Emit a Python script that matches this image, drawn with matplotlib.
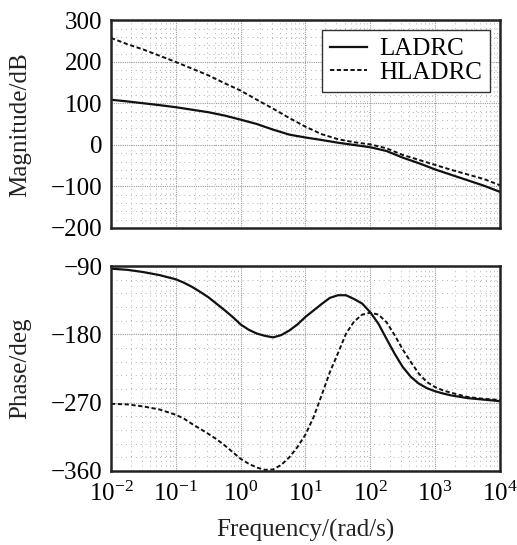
import numpy as np
import matplotlib
matplotlib.use("Agg")
import matplotlib.pyplot as plt
from matplotlib.ticker import FixedLocator, MultipleLocator, LogLocator, NullFormatter

plt.rcParams['font.family'] = ['Liberation Serif', 'DejaVu Serif']
plt.rcParams['mathtext.fontset'] = 'custom'
plt.rcParams['mathtext.rm'] = 'Liberation Serif'
plt.rcParams['mathtext.it'] = 'Liberation Serif:italic'

# log10 of frequency (rad/s) for the magnitude curves, quarter decades
log_w_mag = [-2, -1.75, -1.5, -1.25, -1, -0.75, -0.5, -0.25, 0, 0.25, 0.5, 0.75,
             1, 1.25, 1.5, 1.75, 2, 2.25, 2.5, 2.75, 3, 3.25, 3.5, 3.75, 4]

mag_ladrc = [109, 105, 100.5, 96, 91, 85, 79, 71, 61, 50.5, 37, 25,
             18, 12, 5.5, 0, -5.5, -14.5, -30.5, -44, -59, -72, -85, -98, -113]
mag_hladrc = [258, 243, 230, 215, 200, 184, 168, 149, 131, 109, 87.5, 65,
              44, 26, 14, 6.5, 1.5, -8, -24, -36, -48, -60, -71, -82, -97]

# log10 of frequency for the phase curves (finer where they bend)
log_w_ph = [-2, -1.75, -1.5, -1.25, -1, -0.875, -0.75, -0.625, -0.5, -0.375, -0.25, -0.125,
            0, 0.125, 0.25, 0.375, 0.5, 0.625, 0.75, 0.875, 1, 1.125, 1.25, 1.375,
            1.5, 1.625, 1.75, 1.875, 2, 2.125, 2.25, 2.375, 2.5, 2.625, 2.75, 2.875,
            3, 3.125, 3.25, 3.5, 3.75, 4]

phase_ladrc = [-93.5, -95, -98, -102, -107.5, -112, -117.5, -124, -131, -139.5, -148, -157,
               -167, -174, -179, -182, -184, -181, -175, -167, -157, -148.5, -140, -132,
               -128.5, -128.5, -133.5, -139.5, -151, -166, -186, -205.5, -223, -236, -245, -251,
               -255, -258, -260.5, -264, -266, -268]
phase_hladrc = [-271.5, -272.3, -275, -279, -286, -291, -298, -304.5, -311, -318, -326, -335,
                -344, -350.5, -355.5, -358.5, -358, -352, -342, -328.5, -312, -289, -260, -230,
                -205, -179, -163, -154, -151.5, -154, -164, -181, -200, -216.5, -232, -243,
                -249.5, -254, -257, -262.5, -265, -266.5]

x_ticks = [1e-2, 1e-1, 1e0, 1e1, 1e2, 1e3, 1e4]
x_tick_labels = [r'$10^{-2}$', r'$10^{-1}$', r'$10^{0}$', r'$10^{1}$',
                 r'$10^{2}$', r'$10^{3}$', r'$10^{4}$']
mag_ticks = [-200, -100, 0, 100, 200, 300]
phase_ticks = [-360, -270, -180, -90]

w_mag = 10.0 ** np.array(log_w_mag)
w_ph = 10.0 ** np.array(log_w_ph)

fig = plt.figure(figsize=(5.17, 5.45), dpi=100)
ax1 = fig.add_axes([0.2147, 0.5817, 0.7524, 0.3807])
ax2 = fig.add_axes([0.2147, 0.1358, 0.7524, 0.3761])

fs = 18
dash = (0, (2.2, 1.3))

ax1.plot(w_mag, mag_ladrc, color='#111111', lw=1.6, label='LADRC')
ax1.plot(w_mag, mag_hladrc, color='#111111', lw=1.4, linestyle=dash, label='HLADRC')
ax2.plot(w_ph, phase_ladrc, color='#111111', lw=1.6)
ax2.plot(w_ph, phase_hladrc, color='#111111', lw=1.4, linestyle=dash)

for ax, ticks, minor in ((ax1, mag_ticks, 20), (ax2, phase_ticks, 18)):
    ax.set_xscale('log')
    ax.set_xlim(1e-2, 1e4)
    ax.set_ylim(ticks[0], ticks[-1])
    ax.yaxis.set_major_locator(FixedLocator(ticks))
    ax.yaxis.set_minor_locator(MultipleLocator(minor))
    ax.xaxis.set_major_locator(FixedLocator(x_ticks))
    ax.xaxis.set_minor_locator(LogLocator(base=10, subs=np.arange(2, 10), numticks=20))
    ax.xaxis.set_minor_formatter(NullFormatter())
    ax.grid(True, which='major', color='#9a9a9a', linestyle=(0, (1, 1)), linewidth=0.8)
    ax.grid(True, which='minor', color='#b0b0b0', linestyle=(0, (1, 4)), linewidth=0.7)
    ax.set_axisbelow(True)
    ax.tick_params(which='major', direction='in', length=0, labelsize=fs, pad=6)
    ax.tick_params(which='minor', length=0)
    for s in ax.spines.values():
        s.set_linewidth(1.8)
        s.set_color('#222222')

ax1.set_xticklabels([])
ax1.set_yticks(mag_ticks)
ax1.set_yticklabels([str(t).replace('-', '\u2212') for t in mag_ticks])
ax2.set_yticks(phase_ticks)
ax2.set_yticklabels([str(t).replace('-', '\u2212') for t in phase_ticks])
ax2.set_xticks(x_ticks)
ax2.set_xticklabels(x_tick_labels)
ax2.tick_params(axis='x', pad=8)

ax1.set_ylabel('Magnitude/dB', fontsize=fs, color='#222222')
ax2.set_ylabel('Phase/deg', fontsize=fs, color='#222222')
ax2.set_xlabel('Frequency/(rad/s)', fontsize=fs, color='#222222', labelpad=9)
ax1.yaxis.set_label_coords(-0.205, 0.5)
ax2.yaxis.set_label_coords(-0.205, 0.5)

leg = ax1.legend(loc='upper right', fontsize=fs, fancybox=False, framealpha=1,
                 edgecolor='#333333', handlelength=1.5, borderpad=0.3,
                 labelspacing=0.05, handletextpad=0.5, borderaxespad=0.4)
leg.get_frame().set_linewidth(1.0)

fig.savefig('out.png', dpi=100, facecolor='white')
